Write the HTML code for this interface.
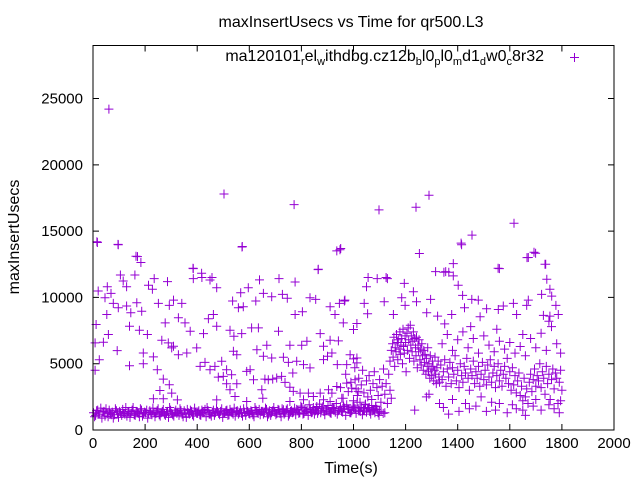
<!DOCTYPE html>
<html><head><meta charset="utf-8"><style>
html,body{margin:0;padding:0;background:#fff;}
svg{display:block;font-family:"Liberation Sans",sans-serif;}
</style></head><body>
<svg id="chart" width="640" height="480" viewBox="0 0 640 480">
<rect width="640" height="480" fill="#fff"/>
<text x="351" y="27" text-anchor="middle" font-size="16" fill="#000">maxInsertUsecs vs Time for qr500.L3</text>
<text x="351" y="473" text-anchor="middle" font-size="16" fill="#000">Time(s)</text>
<text transform="translate(19,237) rotate(-90)" text-anchor="middle" font-size="16" fill="#000">maxInsertUsecs</text>
<g id="axes"></g>
<g id="points"></g>
<g>
<text x="544" y="61" text-anchor="end" font-size="16" fill="#000">ma120101<tspan font-size="11" dy="4">r</tspan><tspan dy="-4">el</tspan><tspan font-size="11" dy="4">w</tspan><tspan dy="-4">ithdbg.cz12b</tspan><tspan font-size="11" dy="4">b</tspan><tspan dy="-4">l0</tspan><tspan font-size="11" dy="4">p</tspan><tspan dy="-4">l0</tspan><tspan font-size="11" dy="4">m</tspan><tspan dy="-4">d1</tspan><tspan font-size="11" dy="4">d</tspan><tspan dy="-4">w0</tspan><tspan font-size="11" dy="4">c</tspan><tspan dy="-4">8r32</tspan></text>
<path d="M570 57.5h9M574.5 53v9" stroke="#9400d3" stroke-width="1"/>
</g>
<rect x="93" y="45.5" width="521" height="384.5" fill="none" stroke="#000" stroke-width="1"/>
</svg>
<script>
const xTicks=[0,200,400,600,800,1000,1200,1400,1600,1800,2000];
const yTicks=[0,5000,10000,15000,20000,25000];
const xDomain=[0,2000];
const yDomain=[0,29000];
const sampleTimes=[61,503,772,1098,1240,1290,1616,1455,1413,15,96,572,948,1693,1666,165,1555,1735,384,864,1347,1366,1125,1056,457,418,
17,97,171,184,105,161,116,129,55,20,69,46,78,97,168,129,187,145,53,12,59,40,8,93,24,8,140,193,193,140,178,209,232,213,228,235,286,251,264,289,302,277,293,309,341,328,353,373,385,385,417,449,475,398,360,328,309,247,270,293,257,302,232,270,324,424,443,462,475,526,558,577,536,567,596,625,639,654,686,714,727,746,776,776,804,833,855,865,910,929,946,965,936,951,573,541,571,609,635,712,756,801,821,872,885,910,942,961,1000,1013,987,1013,539,552,629,667,686,654,731,782,750,767,724,690,660,808,833,885,900,917,938,974,1000,1013,
411,430,449,468,494,513,532,500,481,513,552,526,590,603,616,648,652,673,705,737,756,769,795,808,827,846,872,885,904,917,936,955,974,993,1006,1018,961,910,859,756,731,475,545,590,
1415,1253,1671,1699,1738,1560,1383,1383,1315,1354,1091,1130,1195,1050,1230,1402,1742,1754,967,1041,1118,1185,1242,1296,1419,1454,1479,1671,1722,1761,1614,1575,1054,1153,1198,1281,1323,1377,1426,1486,1511,1556,1626,1665,1729,1777,1786,1754,
1140,1145,1150,1152,1155,1158,1160,1163,1165,1168,1170,1172,1175,1178,1180,1182,1185,1188,1190,1192,1195,1198,1200,1202,1205,1207,1210,1212,1215,1218,1220,1222,1225,1228,1230,1232,1235,1238,1240,1242,1245,1248,1250,1252,1255,1258,1260,1262,1265,1268,1270,1272,1275,1278,1280,1283,1285,1288,1290,1293,1295,1298,1300,1303,1305,1308,1310,1313,1315,1318,1320,1325,1328,1330,
1335,1340,1345,1350,1355,1360,1365,1370,1375,1380,1385,1390,1395,1400,1405,1410,1415,1420,1425,1430,1435,1440,1445,1450,1455,1460,1465,1470,1475,1480,1485,1490,1495,1500,1505,1510,1515,1520,1525,1530,1535,1540,1545,1550,1555,1560,1565,1570,1575,1580,1585,1590,1595,1600,1605,1610,1615,1620,1625,1630,1635,1640,1645,1650,1655,1660,1665,1670,1675,1680,1685,1690,1695,1700,1705,1710,1715,1720,1725,1730,1735,1740,1745,1750,1755,1760,1765,1770,1775,1780,1785,1790,1795,1800,
1340,1360,1380,1400,1420,1440,1460,1480,1500,1520,1540,1560,1580,1600,1620,1640,1660,1680,1700,1720,1740,1760,1780,1795,1350,1450,1550,1650,1750,
1235,1280,1290,1330,1345,1365,1380,1405,1430,1445,1470,1490,1510,1530,1545,1560,1590,1610,1625,1650,1660,1690,1700,1720,1750,1770,1790,1795,
950,960,970,980,990,1000,1005,1010,1015,1020,1025,1030,1035,1040,1045,1050,1055,1060,1065,1070,1075,1080,1085,1090,1095,1100,1105,1110,1115,1120,1125,1130,1135,1140,1145,1060,1080,1100,1120,1000,1040];
const sampleValues=[24200,17800,17000,16600,16800,17700,15600,14700,14100,14200,14000,13800,13600,13400,13000,13100,12200,12500,12200,12100,11900,11900,11500,11500,11500,11500,
14140,13970,13080,12630,11690,11690,11240,10810,10810,10480,10300,9980,9550,9220,9600,9350,8960,8840,8710,7960,7200,6620,6570,5990,5300,4500,4850,5000,5810,7830,7530,7200,5510,10910,10610,11420,11190,9550,6770,6570,6190,8080,9400,9800,9550,8460,8080,7450,12170,11420,11820,11310,10730,6190,5810,5680,6320,4550,3840,3410,2980,2780,2350,2350,2270,7270,8390,8710,7830,7530,9220,9300,9730,10350,10730,9730,11320,10300,10050,11420,10230,9930,11160,8710,8920,9980,9850,12120,9300,8710,9550,9730,13510,13690,13840,7070,7270,7700,7700,7450,6390,6390,6690,7270,6320,6770,6720,8080,7580,8030,5680,5430,5940,5680,6060,6390,5430,5560,5480,5180,5100,4300,4040,3840,3840,4930,4680,5310,5560,5810,4930,4930,5360,5060,
4800,5100,4550,4800,5180,4550,4170,4040,3990,3490,3490,3030,4420,4550,3790,3030,2400,3790,3920,3590,3230,2910,2780,2280,2780,2530,2780,2280,3030,2780,3280,2400,3540,3160,3790,2910,1770,2150,1770,2150,1520,2270,2530,2150,
13970,13310,13010,13330,12500,12170,12550,11620,11950,11950,11420,11420,11060,10810,10430,10910,11370,10610,9800,9550,9670,9980,9670,9850,10150,9850,9800,9800,10230,10100,9550,9350,8770,8710,9400,8840,8590,8710,9220,8540,9140,9090,8710,9400,8640,9400,8710,8590,
5200,6000,6500,5500,7000,4800,6200,5900,7200,6600,5300,6800,6100,7400,5700,6400,6900,5000,7600,6300,5800,7100,6600,4400,7300,6000,7700,6800,5400,7900,6400,7100,5900,6700,7400,5200,6900,6200,5600,7000,4700,6400,5900,6800,5300,6100,4900,6500,5600,4500,6000,5100,5700,4200,5400,4800,6200,4400,5000,3900,5600,4600,4100,5200,4800,3700,4500,5500,4200,3500,4700,5200,4000,3600,
4900,3800,4400,5300,3300,4600,4000,5100,3500,4700,4200,5600,3700,4500,3200,5000,4100,3600,4800,4300,5400,3900,3000,4600,4100,5200,3500,4400,3900,4800,3300,4200,5100,3800,4500,3400,4900,4000,5300,3600,4300,4800,3200,4100,5000,3700,4500,3300,4200,4800,3900,5400,3500,4400,3000,4700,3400,4100,2800,3700,4300,2600,3300,2200,3900,2500,3100,2000,3600,4200,2900,3800,4600,3300,4100,3700,5000,3200,4400,3900,2700,4800,3500,4200,2300,3800,4600,3100,4300,3900,2000,3600,4500,3000,
6500,7200,6000,6800,7400,6200,6900,5800,7100,6400,5900,6700,6100,6600,5800,6300,5600,6900,6200,7300,6000,7800,6500,5800,8000,7800,7600,7200,8200,
1500,2500,2700,2000,1700,1200,2300,1400,2000,1600,1800,2500,1400,2100,1500,2000,1300,1900,1600,1500,1100,1800,2300,1500,1900,1600,1300,2200,
3200,2400,4200,2900,3600,2200,4700,3100,2600,3900,2100,3400,4500,2800,1900,3700,2500,4100,3000,2300,3500,4400,1800,3200,2600,3800,2100,3300,4600,2700,3500,2000,4200,3000,2400,1700,1500,1400,1300,1700,1600];
const bandStep=8;
const bandA=[1300,1100,1500,1200,900,1400,1600,1000,1250,1350,1150,1450,950,1300,1550,1200,1050,1400,1250,1700,1100,1350,1000,1500,1200,1300,900,1450,1150,1350,1250,1600,1050,1400,1200,1300,950,1500,1150,1350,1250,1100,1450,1000,1300,1550,1200,1400,1050,1350,1250,1150,1500,1300,1000,1450,1200,1350,1100,1600,1250,1400,950,1300,1500,1150,1350,1200,1050,1450,1300,1250,1600,1100,1400,1200,1350,1000,1500,1250,1150,1400,1300,1550,1200,1100,1450,1350,1250,1500,1000,1400,1300,1600,1200,1450,1350,1150,1500,1300,1700,1250,1400,1100,1550,1350,1200,1600,1450,1300,1750,1150,1500,1400,1250,1650,1350,1200,1500,1400,1800,1100,1550,1300,1450,1700,1250,1600,1400,1150,1500,1350,1650,1200,1450,1300,1550,1100,1400,1250];
const bandB=[1000,1450,1200,1650,1350,1050,1250,1500,1150,900,1600,1300,1400,1100,1250,1700,1350,950,1500,1150,1400,1250,1600,1050,1350,1500,1200,1300,1650,1000,1450,1150,1300,1550,1100,1400,1700,1250,1050,1500,1350,1600,1200,1450,950,1300,1500,1150,1650,1250,1450,1100,1350,1550,1700,1200,1050,1500,1300,1400,1150,1600,1250,1450,1100,1550,1300,1650,1400,1200,1500,1050,1350,1600,1250,1450,1150,1700,1300,1550,1400,1200,1650,1000,1450,1350,1700,1150,1550,1250,1600,1200,1500,1050,1400,1300,1650,1550,1250,1800,1200,1600,1500,1900,1300,1700,1450,1250,1950,1650,1400,1500,1850,1300,1700,1600,2000,1450,1750,1350,1650,1900,1550,1300,1800,1600,2100,1450,1700,1500,1950,1650,1400,1850,1550,1750,1300];
const X0=93,X1=614,Y0=430,Y1=45.5;
function xScale(t){return X0+(t-xDomain[0])/(xDomain[1]-xDomain[0])*(X1-X0);}
function yScale(v){return Y0-(v-yDomain[0])/(yDomain[1]-yDomain[0])*(Y0-Y1);}
const NS="http://www.w3.org/2000/svg";
const axes=document.getElementById('axes');
xTicks.forEach(function(t){
  const x=xScale(t);
  const p=document.createElementNS(NS,'path');
  p.setAttribute('d','M'+x+' '+Y0+'v-6M'+x+' '+Y1+'v6');
  p.setAttribute('stroke','#000');
  
  
  axes.appendChild(p);
  const tx=document.createElementNS(NS,'text');
  tx.setAttribute('x',x);tx.setAttribute('y',448);
  tx.setAttribute('text-anchor','middle');tx.setAttribute('font-size','15');
  tx.textContent=t;
  
  
  axes.appendChild(tx);
});
yTicks.forEach(function(v){
  const y=yScale(v);
  const p=document.createElementNS(NS,'path');
  p.setAttribute('d','M'+X0+' '+y+'h6M'+X1+' '+y+'h-6');
  p.setAttribute('stroke','#000');
  
  
  axes.appendChild(p);
  const tx=document.createElementNS(NS,'text');
  tx.setAttribute('x',83);tx.setAttribute('y',y+5);
  tx.setAttribute('text-anchor','end');tx.setAttribute('font-size','15');
  tx.textContent=v;
  
  
  axes.appendChild(tx);
});
const pts=document.getElementById('points');
let d='';
function addPoint(t,v){const x=xScale(t),y=yScale(v);d+='M'+(x-4.5).toFixed(1)+' '+y.toFixed(1)+'h9M'+x.toFixed(1)+' '+(y-4.5).toFixed(1)+'v9';}
bandA.forEach(function(v,i){addPoint(i*bandStep+2,v);});
bandB.forEach(function(v,i){addPoint(i*bandStep+6,v);});
const n=Math.min(sampleTimes.length,sampleValues.length);
for(let i=0;i<n;i++){addPoint(sampleTimes[i],sampleValues[i]);}
const path=document.createElementNS(NS,'path');
path.setAttribute('d',d);
path.setAttribute('stroke','#9400d3');
path.setAttribute('stroke-width','1');
path.setAttribute('fill','none');


pts.appendChild(path);
</script>
</body></html>
